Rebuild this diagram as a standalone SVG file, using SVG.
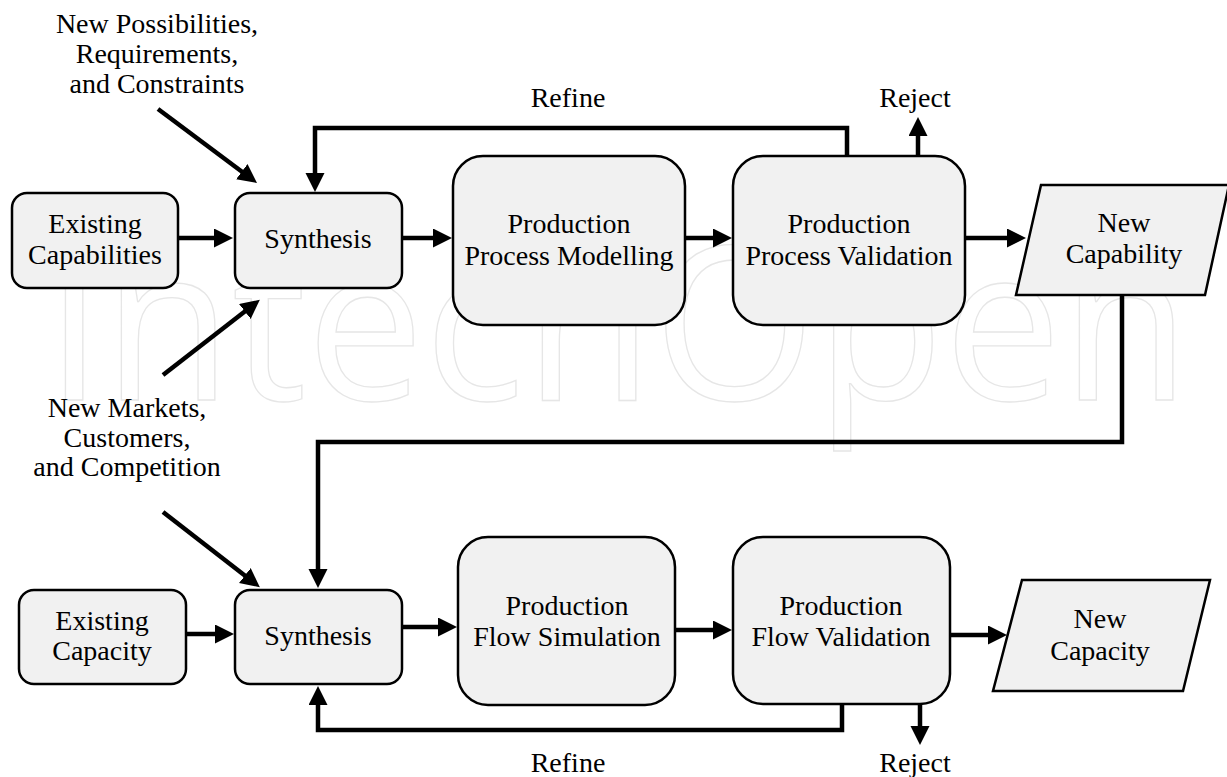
<svg xmlns="http://www.w3.org/2000/svg" width="1227" height="777" viewBox="0 0 1227 777">
  <defs>
    <style>
      .box { fill: #f1f1f1; stroke: #000; stroke-width: 2.5; }
      .lbl { font-family: "Liberation Serif", "DejaVu Serif", serif; font-size: 28px; fill: #000; text-anchor: middle; }
      .wire { fill: none; stroke: #000; stroke-width: 4.5; stroke-linejoin: miter; }
      .arrow { marker-end: url(#head); }
      .mark { font-family: "Open Sans", "DejaVu Sans", sans-serif; font-size: 215px; fill: none; stroke: #e6e6e6; stroke-width: 1.3; }
    </style>
    <marker id="head" markerUnits="userSpaceOnUse" markerWidth="20" markerHeight="20" refX="4" refY="9.5" orient="auto">
      <path d="M0,0 L19,9.5 L0,19 Z" fill="#000"/>
    </marker>
  </defs>

  <rect width="1227" height="777" fill="#fff"/>

  <!-- faint publisher mark in the background -->
  <text class="mark" x="45" y="400" textLength="1145" lengthAdjust="spacingAndGlyphs">IntechOpen</text>

  <!-- free-standing input labels -->
  <g id="inputs-top">
    <text class="lbl" x="157" y="33">New Possibilities,</text>
    <text class="lbl" x="157" y="63">Requirements,</text>
    <text class="lbl" x="157" y="93">and Constraints</text>
  </g>
  <g id="inputs-market">
    <text class="lbl" x="127" y="417">New Markets,</text>
    <text class="lbl" x="127" y="447">Customers,</text>
    <text class="lbl" x="127" y="476">and Competition</text>
  </g>

  <!-- connectors -->
  <g id="connectors">
    <!-- capability loop -->
    <path class="wire arrow" d="M178,238 H218"/>
    <path class="wire arrow" d="M402,238 H437"/>
    <path class="wire arrow" d="M685,238 H717"/>
    <path class="wire arrow" d="M965,238 H1011"/>
    <path class="wire arrow" d="M847,156 V128 H315 V177"/>
    <path class="wire arrow" d="M918,156 V132"/>
    <path class="wire arrow" d="M158,109 L245,174"/>
    <path class="wire arrow" d="M163,375 L248,309"/>
    <!-- hand-over from capability to capacity -->
    <path class="wire arrow" d="M1122,295 V442 H318 V573"/>
    <!-- capacity loop -->
    <path class="wire arrow" d="M163,512 L248,578"/>
    <path class="wire arrow" d="M186,634 H219"/>
    <path class="wire arrow" d="M402,627 H442"/>
    <path class="wire arrow" d="M675,630 H717"/>
    <path class="wire arrow" d="M950,635 H992"/>
    <path class="wire arrow" d="M842,704 V730 H318 V701"/>
    <path class="wire arrow" d="M920,704 V730"/>
    <text class="lbl" x="568" y="107">Refine</text>
    <text class="lbl" x="915" y="107">Reject</text>
    <text class="lbl" x="568" y="772">Refine</text>
    <text class="lbl" x="915" y="772">Reject</text>
  </g>

  <!-- upper row: capability -->
  <g id="existing-capabilities">
    <rect class="box" x="12" y="193" width="166" height="95" rx="15"/>
    <text class="lbl" x="95" y="233">Existing</text>
    <text class="lbl" x="95" y="264">Capabilities</text>
  </g>
  <g id="synthesis-capability">
    <rect class="box" x="235" y="193" width="167" height="95" rx="15"/>
    <text class="lbl" x="318" y="248">Synthesis</text>
  </g>
  <g id="process-modelling">
    <rect class="box" x="453" y="156" width="232" height="169" rx="30"/>
    <text class="lbl" x="569" y="233">Production</text>
    <text class="lbl" x="569" y="265">Process Modelling</text>
  </g>
  <g id="process-validation">
    <rect class="box" x="733" y="156" width="232" height="169" rx="30"/>
    <text class="lbl" x="849" y="233">Production</text>
    <text class="lbl" x="849" y="265">Process Validation</text>
  </g>
  <g id="new-capability">
    <polygon class="box" points="1041,185 1229,185 1205,295 1016,295"/>
    <text class="lbl" x="1124" y="232">New</text>
    <text class="lbl" x="1124" y="263">Capability</text>
  </g>

  <!-- lower row: capacity -->
  <g id="existing-capacity">
    <rect class="box" x="19" y="590" width="167" height="94" rx="15"/>
    <text class="lbl" x="102" y="630">Existing</text>
    <text class="lbl" x="102" y="660">Capacity</text>
  </g>
  <g id="synthesis-capacity">
    <rect class="box" x="235" y="590" width="167" height="94" rx="15"/>
    <text class="lbl" x="318" y="645">Synthesis</text>
  </g>
  <g id="flow-simulation">
    <rect class="box" x="458" y="537" width="217" height="168" rx="30"/>
    <text class="lbl" x="567" y="615">Production</text>
    <text class="lbl" x="567" y="646">Flow Simulation</text>
  </g>
  <g id="flow-validation">
    <rect class="box" x="733" y="537" width="217" height="167" rx="30"/>
    <text class="lbl" x="841" y="615">Production</text>
    <text class="lbl" x="841" y="646">Flow Validation</text>
  </g>
  <g id="new-capacity">
    <polygon class="box" points="1022,580 1210,580 1183,691 993,691"/>
    <text class="lbl" x="1100" y="628">New</text>
    <text class="lbl" x="1100" y="660">Capacity</text>
  </g>
</svg>
